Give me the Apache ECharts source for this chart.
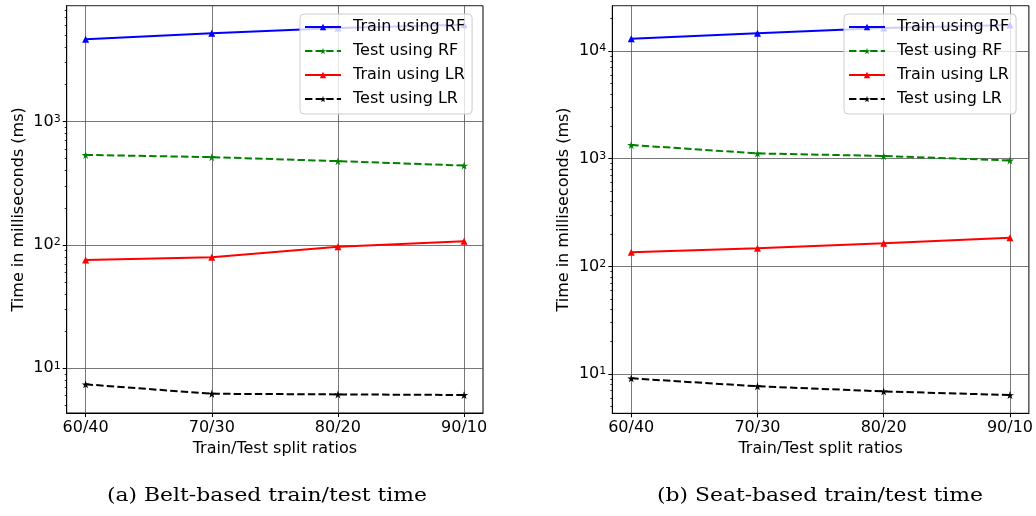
<!DOCTYPE html>
<html>
<head>
<meta charset="utf-8">
<script src="https://cdn.jsdelivr.net/npm/echarts@6/dist/echarts.min.js"></script>
<style>
html,body{margin:0;padding:0;background:#fff;}
#chart{width:1036px;height:516px;}
</style>
</head>
<body>
<div id="chart"></div>
<script>
// ---- data ----
const categories = ['60/40', '70/30', '80/20', '90/10'];
const seriesNames = ['Train using RF', 'Test using RF', 'Train using LR', 'Test using LR'];
// (a) Belt-based
const beltTrainRF = [4650, 5200, 5740, 6100];
const beltTestRF  = [537, 515, 478, 440];
const beltTrainLR = [75.6, 79.4, 96.9, 107];
const beltTestLR  = [7.42, 6.22, 6.15, 6.08];
// (b) Seat-based
const seatTrainRF = [13000, 14600, 16350, 17400];
const seatTestRF  = [1340, 1120, 1060, 964];
const seatTrainLR = [135, 147, 164, 184];
const seatTestLR  = [9.12, 7.7, 6.9, 6.38];
const captions = ['(a) Belt-based train/test time', '(b) Seat-based train/test time'];
const xTitle = 'Train/Test split ratios';
const yTitle = 'Time in milliseconds (ms)';

const FONT = 'DejaVu Sans';
const STAR = 'path://M50,0 L61,35 L98,35 L68,57 L79,91 L50,70 L21,91 L32,57 L2,35 L39,35 Z';
const colors = ['#0000ff', '#008000', '#ff0000', '#000000'];
const dashed = [false, true, false, true];
const symbols = ['triangle', STAR, 'triangle', STAR];

const minorVals = [];
for (let e = 0; e < 5; e++) for (let k = 2; k <= 9; k++) minorVals.push(k * Math.pow(10, e));

const grids = [
  {left: 66.7, top: 5.7, width: 416.3, height: 407.3},
  {left: 612.3, top: 5.7, width: 416.7, height: 407.6}
];
const yRanges = [[4.345, 8700], [4.32, 26360]];

function toPairs(arr){ return arr.map((v,i)=>[i, v]); }

const xAxes = grids.map((g, i) => ({
  type: 'value', gridIndex: i, min: -0.15, max: 3.15,
  axisLine: {show: true, onZero: false, lineStyle: {color: '#000', width: 1}},
  axisTick: {show: true, length: 4, customValues: [0,1,2,3], lineStyle: {color: '#000'}},
  axisLabel: {show: true, customValues: [0,1,2,3], margin: 7,
    formatter: v => categories[Math.round(v)] || '',
    fontFamily: FONT, fontSize: 16, color: '#000'},
  splitLine: {show: true, lineStyle: {color: '#555', width: 0.8}},
  name: xTitle, nameLocation: 'middle', nameGap: 23,
  nameTextStyle: {fontFamily: FONT, fontSize: 16, color: '#000', verticalAlign: 'top'}
}));

const yAxes = [];
grids.forEach((g, i) => {
  yAxes.push({
    type: 'log', logBase: 10, gridIndex: i, min: yRanges[i][0], max: yRanges[i][1],
    position: 'left',
    axisLine: {show: true, onZero: false, lineStyle: {color: '#000', width: 1}},
    axisTick: {show: true, length: 4, lineStyle: {color: '#000'}},
    axisLabel: {show: true, showMinLabel: false, showMaxLabel: false, margin: 6,
      fontFamily: FONT, fontSize: 16, color: '#000',
      formatter: v => {
        const n = Math.round(Math.log10(v));
        if (Math.abs(Math.log10(v) - n) > 1e-6) return '';
        return '10{s|' + n + '}';
      },
      rich: {s: {fontFamily: FONT, fontSize: 11, color: '#000', verticalAlign: 'top', lineHeight: 16, padding: [0,0,6,0]}}
    },
    splitLine: {show: true, lineStyle: {color: '#555', width: 0.8}},
    name: yTitle, nameLocation: 'middle', nameGap: 40,
    nameTextStyle: {fontFamily: FONT, fontSize: 16, color: '#000'}
  });
});
// minor ticks (hidden helper axes)
grids.forEach((g, i) => {
  yAxes.push({
    type: 'log', logBase: 10, gridIndex: i, min: yRanges[i][0], max: yRanges[i][1],
    position: 'left', offset: 0,
    axisLine: {show: false, onZero: false},
    axisTick: {show: true, length: 2, customValues: minorVals, lineStyle: {color: '#000', width: 0.8}},
    axisLabel: {show: false},
    splitLine: {show: false}
  });
});

const data = [
  [beltTrainRF, beltTestRF, beltTrainLR, beltTestLR],
  [seatTrainRF, seatTestRF, seatTrainLR, seatTestLR]
];
const series = [];
data.forEach((set, gi) => {
  set.forEach((vals, si) => {
    series.push({
      type: 'line', name: seriesNames[si], xAxisIndex: gi, yAxisIndex: gi,
      data: toPairs(vals),
      symbol: symbols[si], symbolSize: si % 2 === 0 ? 7 : 8,
      showAllSymbol: true,
      itemStyle: {color: colors[si]},
      lineStyle: {color: colors[si], width: 2, type: dashed[si] ? [7.4, 3.2] : 'solid'},
      emphasis: {disabled: true},
      animation: false, z: 3
    });
  });
});

const legends = [300, 844].map(l => ({
  data: seriesNames, orient: 'vertical', left: l, top: 14,
  itemWidth: 36, itemHeight: 8, itemGap: 8,
  padding: [5, 7, 7, 4],
  backgroundColor: 'rgba(255,255,255,0.8)', borderColor: '#cccccc', borderWidth: 1, borderRadius: 4,
  textStyle: {fontFamily: FONT, fontSize: 16, color: '#000', padding: [0,0,0,7]},
  selectedMode: false, z: 10
}));

const option = {
  backgroundColor: '#fff',
  animation: false,
  grid: grids.map(g => Object.assign({show: true, borderColor: '#000', borderWidth: 1, backgroundColor: 'transparent'}, g)),
  xAxis: xAxes,
  yAxis: yAxes,
  legend: legends,
  series: series,
  graphic: [
    {type: 'text', x: 107, y: 487, scaleX: 1.15, style: {text: captions[0], font: '19px "DejaVu Serif"', fill: '#000'}},
    {type: 'text', x: 657, y: 487, scaleX: 1.15, style: {text: captions[1], font: '19px "DejaVu Serif"', fill: '#000'}}
  ]
};
const chart = echarts.init(document.getElementById('chart'), null, {renderer: 'canvas'});
chart.setOption(option);
</script>
</body>
</html>
